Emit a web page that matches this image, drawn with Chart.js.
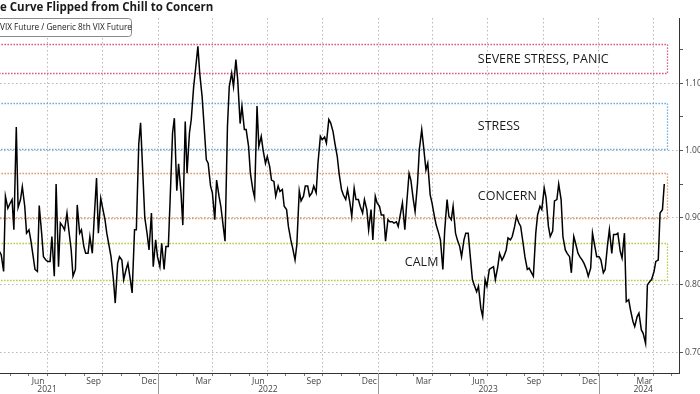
<!DOCTYPE html>
<html>
<head>
<meta charset="utf-8">
<script src="https://cdn.jsdelivr.net/npm/chart.js@4.4.1/dist/chart.umd.min.js"></script>
<style>
  html, body { margin: 0; padding: 0; background: #fff; overflow: hidden; }
</style>
</head>
<body>
<canvas id="myChart" width="700" height="394"></canvas>
<script>
// twice-weekly readings of the 1st / 8th VIX future ratio, one line per month
var dates = [
  '2021-04-09','2021-04-13','2021-04-16','2021-04-20','2021-04-23','2021-04-27','2021-04-30',
  '2021-05-04','2021-05-07','2021-05-11','2021-05-14','2021-05-18','2021-05-21','2021-05-25','2021-05-28',
  '2021-06-01','2021-06-04','2021-06-08','2021-06-11','2021-06-15','2021-06-18','2021-06-22','2021-06-25','2021-06-29',
  '2021-07-02','2021-07-06','2021-07-09','2021-07-13','2021-07-16','2021-07-20','2021-07-23','2021-07-27','2021-07-30',
  '2021-08-03','2021-08-06','2021-08-10','2021-08-13','2021-08-17','2021-08-20','2021-08-24','2021-08-27','2021-08-31',
  '2021-09-03','2021-09-07','2021-09-10','2021-09-14','2021-09-17','2021-09-21','2021-09-24','2021-09-28',
  '2021-10-01','2021-10-05','2021-10-08','2021-10-12','2021-10-15','2021-10-19','2021-10-22','2021-10-26','2021-10-29',
  '2021-11-02','2021-11-05','2021-11-09','2021-11-12','2021-11-16','2021-11-19','2021-11-23','2021-11-26','2021-11-30',
  '2021-12-03','2021-12-07','2021-12-10','2021-12-14','2021-12-17','2021-12-21','2021-12-24','2021-12-28','2021-12-31',
  '2022-01-04','2022-01-07','2022-01-11','2022-01-14','2022-01-18','2022-01-21','2022-01-25','2022-01-28',
  '2022-02-01','2022-02-04','2022-02-08','2022-02-11','2022-02-15','2022-02-18','2022-02-22','2022-02-25',
  '2022-03-01','2022-03-04','2022-03-08','2022-03-11','2022-03-15','2022-03-18','2022-03-22','2022-03-25','2022-03-29',
  '2022-04-01','2022-04-05','2022-04-08','2022-04-12','2022-04-15','2022-04-19','2022-04-22','2022-04-26','2022-04-29',
  '2022-05-03','2022-05-06','2022-05-10','2022-05-13','2022-05-17','2022-05-20','2022-05-24','2022-05-27','2022-05-31',
  '2022-06-03','2022-06-07','2022-06-10','2022-06-14','2022-06-17','2022-06-21','2022-06-24','2022-06-28',
  '2022-07-01','2022-07-05','2022-07-08','2022-07-12','2022-07-15','2022-07-19','2022-07-22','2022-07-26','2022-07-29',
  '2022-08-02','2022-08-05','2022-08-09','2022-08-12','2022-08-16','2022-08-19','2022-08-23','2022-08-26','2022-08-30',
  '2022-09-02','2022-09-06','2022-09-09','2022-09-13','2022-09-16','2022-09-20','2022-09-23','2022-09-27','2022-09-30',
  '2022-10-04','2022-10-07','2022-10-11','2022-10-14','2022-10-18','2022-10-21','2022-10-25','2022-10-28',
  '2022-11-01','2022-11-04','2022-11-08','2022-11-11','2022-11-15','2022-11-18','2022-11-22','2022-11-25','2022-11-29',
  '2022-12-02','2022-12-06','2022-12-09','2022-12-13','2022-12-16','2022-12-20','2022-12-23','2022-12-27','2022-12-30',
  '2023-01-03','2023-01-06','2023-01-10','2023-01-13','2023-01-17','2023-01-20','2023-01-24','2023-01-27','2023-01-31',
  '2023-02-03','2023-02-07','2023-02-10','2023-02-14','2023-02-17','2023-02-21','2023-02-24','2023-02-28',
  '2023-03-03','2023-03-07','2023-03-10','2023-03-14','2023-03-17','2023-03-21','2023-03-24','2023-03-28','2023-03-31',
  '2023-04-04','2023-04-07','2023-04-11','2023-04-14','2023-04-18','2023-04-21','2023-04-25','2023-04-28',
  '2023-05-02','2023-05-05','2023-05-09','2023-05-12','2023-05-16','2023-05-19','2023-05-23','2023-05-26','2023-05-30',
  '2023-06-02','2023-06-06','2023-06-09','2023-06-13','2023-06-16','2023-06-20','2023-06-23','2023-06-27','2023-06-30',
  '2023-07-04','2023-07-07','2023-07-11','2023-07-14','2023-07-18','2023-07-21','2023-07-25','2023-07-28',
  '2023-08-01','2023-08-04','2023-08-08','2023-08-11','2023-08-15','2023-08-18','2023-08-22','2023-08-25','2023-08-29',
  '2023-09-01','2023-09-05','2023-09-08','2023-09-12','2023-09-15','2023-09-19','2023-09-22','2023-09-26','2023-09-29',
  '2023-10-03','2023-10-06','2023-10-10','2023-10-13','2023-10-17','2023-10-20','2023-10-24','2023-10-27','2023-10-31',
  '2023-11-03','2023-11-07','2023-11-10','2023-11-14','2023-11-17','2023-11-21','2023-11-24','2023-11-28',
  '2023-12-01','2023-12-05','2023-12-08','2023-12-12','2023-12-15','2023-12-19','2023-12-22','2023-12-26','2023-12-29',
  '2024-01-02','2024-01-05','2024-01-09','2024-01-12','2024-01-16','2024-01-19','2024-01-23','2024-01-26','2024-01-30',
  '2024-02-02','2024-02-06','2024-02-09','2024-02-13','2024-02-16','2024-02-20','2024-02-23','2024-02-27',
  '2024-03-01','2024-03-05','2024-03-08','2024-03-12','2024-03-15','2024-03-19','2024-03-22','2024-03-26','2024-03-29',
  '2024-04-02','2024-04-05','2024-04-09','2024-04-12','2024-04-16','2024-04-19'
];
var ratio = [
  0.840, 0.850, 0.845, 0.820, 0.932, 0.914, 0.920,
  0.927, 0.882, 1.035, 0.915, 0.927, 0.946, 0.917, 0.877,
  0.882, 0.867, 0.842, 0.823, 0.820, 0.918, 0.877, 0.842, 0.837,
  0.835, 0.835, 0.872, 0.813, 0.950, 0.827, 0.892, 0.887, 0.882,
  0.907, 0.882, 0.852, 0.813, 0.823, 0.919, 0.877, 0.882, 0.857,
  0.847, 0.847, 0.872, 0.847, 0.897, 0.959, 0.877, 0.929,
  0.915, 0.897, 0.877, 0.857, 0.842, 0.808, 0.773, 0.832, 0.842,
  0.837, 0.808, 0.823, 0.832, 0.808, 0.788, 0.882, 0.882, 1.010,
  1.041, 0.960, 0.900, 0.875, 0.852, 0.907, 0.827, 0.867, 0.842,
  0.827, 0.862, 0.823, 0.857, 0.857, 0.927, 1.026, 1.048,
  0.940, 0.980, 0.937, 0.889, 1.043, 0.966, 1.026, 1.046,
  1.095, 1.120, 1.155, 1.115, 1.080, 1.040, 0.986, 0.981, 0.947,
  0.937, 0.897, 0.956, 0.932, 0.917, 0.887, 0.865, 1.036, 1.095,
  1.115, 1.095, 1.135, 1.105, 1.040, 1.066, 1.031, 1.031, 1.006,
  0.966, 0.942, 0.930, 1.066, 1.006, 1.021, 1.001, 0.981,
  0.991, 0.976, 0.956, 0.954, 0.932, 0.947, 0.939, 0.942, 0.917,
  0.912, 0.887, 0.867, 0.855, 0.837, 0.860, 0.940, 0.925, 0.932,
  0.947, 0.947, 0.932, 0.937, 0.947, 0.937, 0.981, 1.021, 1.016,
  1.020, 1.011, 1.046, 1.041, 1.028, 1.011, 0.991, 0.966,
  0.942, 0.934, 0.927, 0.942, 0.922, 0.902, 0.944, 0.927, 0.927,
  0.917, 0.907, 0.927, 0.912, 0.882, 0.912, 0.867, 0.932, 0.922,
  0.917, 0.904, 0.904, 0.865, 0.897, 0.894, 0.894, 0.892, 0.894,
  0.887, 0.907, 0.922, 0.882, 0.920, 0.966, 0.956, 0.927,
  0.909, 0.951, 1.001, 1.031, 1.006, 0.971, 0.981, 0.934, 0.922,
  0.902, 0.889, 0.877, 0.867, 0.823, 0.880, 0.927, 0.902,
  0.897, 0.917, 0.877, 0.867, 0.857, 0.842, 0.867, 0.877, 0.877,
  0.847, 0.808, 0.800, 0.790, 0.798, 0.765, 0.753, 0.808, 0.798,
  0.823, 0.825, 0.827, 0.808, 0.827, 0.847, 0.837, 0.842,
  0.852, 0.870, 0.867, 0.872, 0.887, 0.902, 0.892, 0.887, 0.862,
  0.842, 0.823, 0.825, 0.818, 0.813, 0.877, 0.904, 0.917, 0.912,
  0.944, 0.930, 0.887, 0.872, 0.880, 0.925, 0.927, 0.950, 0.927,
  0.872, 0.852, 0.847, 0.842, 0.818, 0.872, 0.862, 0.847,
  0.842, 0.837, 0.832, 0.823, 0.813, 0.825, 0.877, 0.857, 0.842,
  0.842, 0.837, 0.818, 0.823, 0.860, 0.882, 0.847, 0.875, 0.875,
  0.877, 0.850, 0.840, 0.877, 0.775, 0.778, 0.763, 0.746,
  0.738, 0.753, 0.758, 0.733, 0.728, 0.713, 0.800, 0.805, 0.808,
  0.820, 0.835, 0.837, 0.907, 0.912, 0.950
];

var bandNames = ['SEVERE STRESS, PANIC', 'STRESS', 'CONCERN', 'CALM'];
var bandLow = [1.115, 1.002, 0.900, 0.808];
var bandHigh = [1.158, 1.071, 0.967, 0.863];
var yTicks = [0.70, 0.75, 0.80, 0.85, 0.90, 0.95, 1.00, 1.05, 1.10, 1.15];
var monthNames = ['Jan','Feb','Mar','Apr','May','Jun','Jul','Aug','Sep','Oct','Nov','Dec'];
var years = ['2021', '2022', '2023', '2024'];
var titleText = 'e Curve Flipped from Chill to Concern';
var legendText = 'VIX Future / Generic 8th VIX Future';

function dayNum(s) {
  var p = s.split('-');
  return Date.UTC(+p[0], +p[1] - 1, +p[2]) / 864e5;
}

var xMin = dayNum('2021-04-14');
var xMax = dayNum('2024-05-13') + 0.4;

var monthTicks = [];
for (var yy = 2021; yy <= 2024; yy++) {
  for (var mm = 0; mm < 12; mm++) {
    var v = Date.UTC(yy, mm, 1) / 864e5;
    if (v > xMin && v < xMax) monthTicks.push(v);
  }
}
function monthOf(v) { return new Date(v * 864e5).getUTCMonth(); }
function isQuarter(v) { return monthOf(v) % 3 === 0; }
function isMajorY(v) { return Math.round(v * 100) % 10 === 0; }

var points = dates.map(function (d, i) { return { x: dayNum(d), y: ratio[i] }; });

var FONT = '"Open Sans", "Noto Sans", sans-serif';

// bands, labels, title, legend box and year row
var extras = {
  id: 'extras',
  beforeDatasetsDraw: function (chart) {
    var c = chart.ctx, a = chart.chartArea, xs = chart.scales.x, ys = chart.scales.y;
    var colors = ['#cc3a70', '#4f9ad2', '#d8844a', '#9cc420'];
    var labelAt = ['2023-06-15', '2023-06-15', '2023-06-15', '2023-02-14'];
    var right = Math.round(xs.getPixelForValue(dayNum('2024-04-24'))) + 0.5;
    c.save();
    c.beginPath();
    c.rect(a.left, a.top, a.right - a.left, a.bottom - a.top);
    c.clip();
    for (var i = 0; i < bandNames.length; i++) {
      var top = Math.round(ys.getPixelForValue(bandHigh[i])) + 0.5;
      var bot = Math.round(ys.getPixelForValue(bandLow[i])) + 0.5;
      c.setLineDash([1.3, 1.7]);
      c.lineWidth = 1.3;
      c.strokeStyle = colors[i];
      c.strokeRect(a.left - 4.5, top, right - a.left + 4.5, bot - top);
      c.setLineDash([]);
      c.fillStyle = '#1a1a1a';
      c.font = '12.5px ' + FONT;
      c.textBaseline = 'middle';
      c.fillText(bandNames[i], xs.getPixelForValue(dayNum(labelAt[i])), (top + bot) / 2);
    }
    c.restore();
  },
  afterDraw: function (chart) {
    var c = chart.ctx, a = chart.chartArea, xs = chart.scales.x;
    c.save();
    // title
    c.fillStyle = '#1a1a1a';
    c.font = 'bold 11.5px ' + FONT;
    c.textBaseline = 'middle';
    c.fillText(titleText, 0, 8);
    // legend box
    c.fillStyle = '#fff';
    c.strokeStyle = '#8a8a8a';
    c.lineWidth = 1;
    c.beginPath();
    c.roundRect(-5.5, 18.5, 137, 18, 3);
    c.fill();
    c.stroke();
    c.fillStyle = '#222';
    c.font = '8.2px ' + FONT;
    c.fillText(legendText, 0, 28);
    // year separators and labels
    var yearStarts = ['2022-01-01', '2023-01-01', '2024-01-01'];
    c.strokeStyle = '#999';
    yearStarts.forEach(function (d) {
      var x = Math.round(xs.getPixelForValue(dayNum(d))) + 0.5;
      c.beginPath();
      c.moveTo(x, a.bottom);
      c.lineTo(x, chart.height);
      c.stroke();
    });
    var yearAt = ['2021-07-01', '2022-07-02', '2023-07-02', '2024-03-15'];
    c.fillStyle = '#444';
    c.font = '8.5px ' + FONT;
    c.textAlign = 'center';
    years.forEach(function (y, i) {
      c.fillText(y, xs.getPixelForValue(dayNum(yearAt[i])), 390);
    });
    c.restore();
  }
};

var ctx1 = document.getElementById('myChart');
var ratioChart = new Chart(ctx1, {
  type: 'line',
  data: {
    datasets: [{
      data: points,
      borderColor: '#000',
      borderWidth: 1.5,
      pointRadius: 0,
      tension: 0
    }]
  },
  options: {
    responsive: false,
    animation: false,
    devicePixelRatio: 1,
    layout: { padding: { top: 18, left: 0, right: 0, bottom: 0 } },
    plugins: { legend: { display: false }, tooltip: { enabled: false } },
    scales: {
      x: {
        type: 'linear',
        min: xMin,
        max: xMax,
        afterBuildTicks: function (scale) {
          scale.ticks = monthTicks.map(function (v) { return { value: v }; });
        },
        afterFit: function (scale) { scale.height = 21; },
        ticks: {
          autoSkip: false,
          maxRotation: 0,
          labelOffset: -9,
          padding: 0,
          color: '#444',
          font: { family: FONT, size: 8.5 },
          callback: function (v) {
            return isQuarter(v) ? monthNames[(monthOf(v) + 11) % 12] : '';
          }
        },
        grid: {
          color: function (c) { return c.tick && isQuarter(c.tick.value) ? '#b8b8b8' : 'rgba(0,0,0,0)'; },
          tickColor: '#777',
          tickLength: 3,
          lineWidth: 1
        },
        border: { display: true, color: '#333', dash: [1.5, 2.5] }
      },
      y: {
        position: 'right',
        min: 0.669,
        max: 1.197,
        afterBuildTicks: function (scale) {
          scale.ticks = yTicks.map(function (v) { return { value: v }; });
        },
        afterFit: function (scale) { scale.width = 21; },
        ticks: {
          padding: 2,
          color: '#444',
          font: { family: FONT, size: 8.5 },
          callback: function (v) { return isMajorY(v) ? v.toFixed(2) : ''; }
        },
        grid: {
          color: function (c) { return c.tick && isMajorY(c.tick.value) ? '#b8b8b8' : 'rgba(0,0,0,0)'; },
          tickColor: '#555',
          tickLength: 4,
          lineWidth: 1
        },
        border: { display: true, color: '#333', dash: [1.5, 2.5] }
      }
    }
  },
  plugins: [extras]
});
</script>
</body>
</html>
